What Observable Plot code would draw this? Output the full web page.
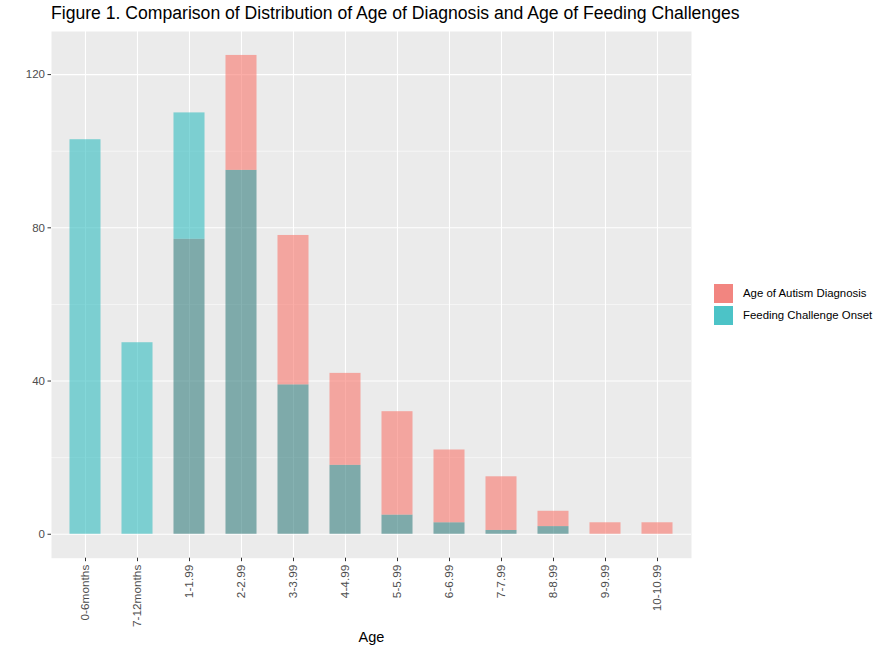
<!DOCTYPE html>
<html>
<head>
<meta charset="utf-8">
<script src="https://cdn.jsdelivr.net/npm/d3@7"></script>
<script src="https://cdn.jsdelivr.net/npm/@observablehq/plot@0.6"></script>
<style>
  body { margin: 0; background: #fff; font-family: "Liberation Sans", Arial, Helvetica, sans-serif; }
  #wrap { position: relative; width: 891px; height: 651px; }
  #title { position: absolute; left: 51px; top: 3px; font-size: 17.6px; color: #000; white-space: nowrap; }
  #legend { position: absolute; left: 713px; top: 282px; font-size: 11.4px; color: #000; }
  .row { display: flex; align-items: center; height: 22px; }
  .key { width: 21px; height: 21px; margin-right: 9px; border: 0.5px solid #fff; box-sizing: border-box; }
  svg { position: absolute; left: 0; top: 0; }
</style>
</head>
<body>
<div id="wrap">
  <div id="chart"></div>
  <div id="title">Figure 1. Comparison of Distribution of Age of Diagnosis and Age of Feeding Challenges</div>
  <div id="legend"></div>
</div>
<script>
const ages = ["0-6months","7-12months","1-1.99","2-2.99","3-3.99","4-4.99","5-5.99","6-6.99","7-7.99","8-8.99","9-9.99","10-10.99"];
const diagnosis = [0, 0, 77, 125, 78, 42, 32, 22, 15, 6, 3, 3];
const feeding = [103, 50, 110, 95, 39, 18, 5, 3, 1, 2, 0, 0];
const seriesNames = ["Age of Autism Diagnosis", "Feeding Challenge Onset"];
const yTicks = [0, 40, 80, 120];
const yMinor = [20, 60, 100];

const rows = ages.map((a, i) => ({age: a, d: diagnosis[i], f: feeding[i], lo: Math.min(diagnosis[i], feeding[i])}));
const redOnly = rows.filter(r => r.d > r.f);
const cyanOnly = rows.filter(r => r.f > r.d);
const overlap = rows.filter(r => r.lo > 0);

const inset = 0.2 * 640 / 12.2;
const plot = Plot.plot({
  width: 891,
  height: 651,
  marginLeft: 51,
  marginRight: 200,
  marginTop: 31,
  marginBottom: 93.3,
  style: {background: "transparent", fontFamily: "Liberation Sans, Arial, Helvetica, sans-serif"},
  x: {domain: ages, type: "band", paddingInner: 0, paddingOuter: 0.1, label: null},
  y: {domain: [-6.25, 131.25], label: null},
  marks: [
    Plot.frame({fill: "#EBEBEB", stroke: null}),
    Plot.ruleY(yMinor, {stroke: "#fff", strokeWidth: 0.55}),
    Plot.ruleY(yTicks, {stroke: "#fff", strokeWidth: 1.1}),
    Plot.ruleX(ages, {x: d => d, stroke: "#fff", strokeWidth: 1.1}),
    Plot.rectY(overlap, {x: "age", y1: 0, y2: "lo", fill: "#357F7F", fillOpacity: 0.6, insetLeft: inset, insetRight: inset}),
    Plot.rectY(redOnly, {x: "age", y1: "f", y2: "d", fill: "#F8766D", fillOpacity: 0.6, insetLeft: inset, insetRight: inset}),
    Plot.rectY(cyanOnly, {x: "age", y1: "d", y2: "f", fill: "#32BCC0", fillOpacity: 0.6, insetLeft: inset, insetRight: inset}),
    Plot.axisY(yTicks, {tickSize: 3.5, tickPadding: 3, stroke: "#333", fill: "#4D4D4D", fontSize: 11.5, label: null}),
    Plot.axisX(ages, {tickSize: 3.5, tickPadding: 3, tickRotate: -90, stroke: "#333", fill: "#4D4D4D", fontSize: 11.8, label: null}),
    Plot.text(["Age"], {frameAnchor: "bottom", dy: 84, fontSize: 14.5, fill: "#000"})
  ]
});
document.getElementById("chart").appendChild(plot);

const colors = ["#F28580", "#4CC3C7"];
const leg = document.getElementById("legend");
seriesNames.forEach((n, i) => {
  const r = document.createElement("div");
  r.className = "row";
  r.innerHTML = `<div class="key" style="background:${colors[i]}"></div><span>${n}</span>`;
  leg.appendChild(r);
});
</script>
</body>
</html>
